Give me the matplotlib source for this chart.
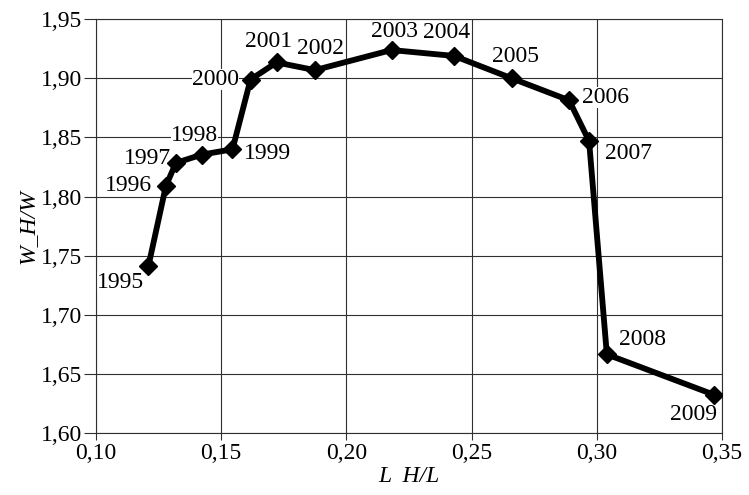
import matplotlib
matplotlib.use("Agg")
import matplotlib.pyplot as plt
from matplotlib.ticker import FuncFormatter

plt.rcParams['font.family'] = ['Liberation Serif', 'DejaVu Serif']
plt.rcParams['font.size'] = 17

years = [1995, 1996, 1997, 1998, 1999, 2000, 2001, 2002, 2003, 2004,
         2005, 2006, 2007, 2008, 2009]
l_h = [0.1209, 0.1279, 0.1319, 0.1422, 0.1545, 0.1617, 0.1721, 0.1874,
       0.2180, 0.2430, 0.2661, 0.2889, 0.2969, 0.3040, 0.3466]
w_h = [1.7410, 1.8090, 1.8285, 1.8355, 1.8400, 1.8990, 1.9135, 1.9070,
       1.9240, 1.9190, 1.9000, 1.8815, 1.8470, 1.6665, 1.6325]

# label offsets in pixels (dx, dy), dy up
offsets = [(-28, -16), (-37, 0), (-28, 4), (-7, 19), (35, -4), (-35, 0),
           (-8, 21), (6, 22), (3, 19), (-8, 23), (4, 22), (36, 3),
           (39, -12), (36, 15), (-20, -20)]

fig = plt.figure(figsize=(7.49, 4.95), dpi=100)
ax = fig.add_axes([0.1282, 0.1253, 0.964 - 0.1282, 0.961 - 0.1253])

ax.plot(l_h, w_h, color='black', lw=4.2, marker='D', markersize=9,
        solid_joinstyle='round', zorder=3)

for yr, x, y, (dx, dy) in zip(years, l_h, w_h, offsets):
    ax.annotate(str(yr), (x, y), xytext=(dx, dy), textcoords='offset pixels',
                ha='center', va='center', fontsize=17, zorder=2,
                bbox=dict(boxstyle='square,pad=0', fc='white', ec='none'))

ax.set_xlim(0.10, 0.35)
ax.set_ylim(1.60, 1.95)
ax.set_xticks([0.10, 0.15, 0.20, 0.25, 0.30, 0.35])
ax.set_yticks([1.60, 1.65, 1.70, 1.75, 1.80, 1.85, 1.90, 1.95])
comma = FuncFormatter(lambda v, p: f"{v:.2f}".replace('.', ','))
ax.xaxis.set_major_formatter(comma)
ax.yaxis.set_major_formatter(comma)
ax.grid(True, color='#303030', lw=0.8, zorder=0)
ax.set_axisbelow(True)
for s in ax.spines.values():
    s.set_color('#303030')
    s.set_linewidth(0.8)
ax.tick_params(axis='y', length=9, width=0.8, color='#303030', pad=1)
ax.tick_params(axis='x', length=5, width=0.8, color='#303030', pad=2)

ax.set_xlabel("L  H/L", fontstyle='italic', labelpad=2)
ax.set_ylabel("W_H/W", fontstyle='italic', labelpad=2)

fig.savefig("out.png", dpi=100)
